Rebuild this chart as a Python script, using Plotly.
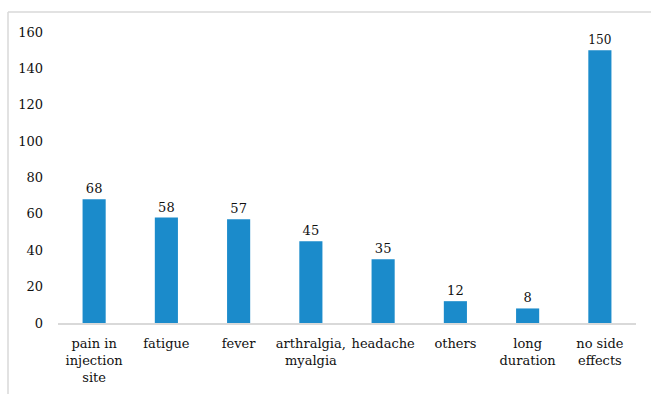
import plotly.graph_objects as go

categories = ["pain in<br>injection<br>site", "fatigue", "fever", "arthralgia,<br>myalgia",
              "headache", "others", "long<br>duration", "no side<br>effects"]
counts = [68, 58, 57, 45, 35, 12, 8, 150]
y_ticks = [0, 20, 40, 60, 80, 100, 120, 140, 160]

FONT = "DejaVu Serif"
SIZE = 13
BAR = "#1B8BCB"
INK = "#111111"

fig = go.Figure(go.Bar(
    x=categories, y=counts,
    marker=dict(color=BAR, line=dict(width=0)),
    width=0.32,
    text=[str(v) for v in counts],
    textposition="outside",
    textfont=dict(family=FONT, size=SIZE, color=INK),
    cliponaxis=False,
))

W, H = 651, 394
ml, mr, mt, mb = 58, 15, 32, 71
pw, ph = W - ml - mr, H - mt - mb

def px_x(p):
    return (p - ml) / pw

def px_y(p):
    return (H - mb - p) / ph

# outer chart frame (left and top edges)
frame = dict(color="#D9D9D9", width=1.5)
shapes = [
    dict(type="line", xref="paper", yref="paper", x0=px_x(8), x1=px_x(8), y0=px_y(H), y1=px_y(12), line=frame),
    dict(type="line", xref="paper", yref="paper", x0=px_x(8), x1=px_x(W), y0=px_y(12), y1=px_y(12), line=frame),
]

fig.update_layout(
    width=W, height=H,
    margin=dict(l=ml, r=mr, t=mt, b=mb),
    paper_bgcolor="white", plot_bgcolor="white",
    font=dict(family=FONT, size=SIZE, color=INK),
    showlegend=False,
    bargap=0.68,
    shapes=shapes,
    xaxis=dict(showline=True, linecolor="#D9D9D9", linewidth=1.5, ticks="",
               showgrid=False, automargin=False, tickangle=0,
               tickfont=dict(family=FONT, size=SIZE, color=INK),
               ticklabelstandoff=8),
    yaxis=dict(range=[0, 160], tickvals=y_ticks, showgrid=False, zeroline=False,
               showline=False, ticks="", ticklabelstandoff=14, automargin=False,
               tickfont=dict(family=FONT, size=SIZE, color=INK)),
)

fig.write_html("out.html")
